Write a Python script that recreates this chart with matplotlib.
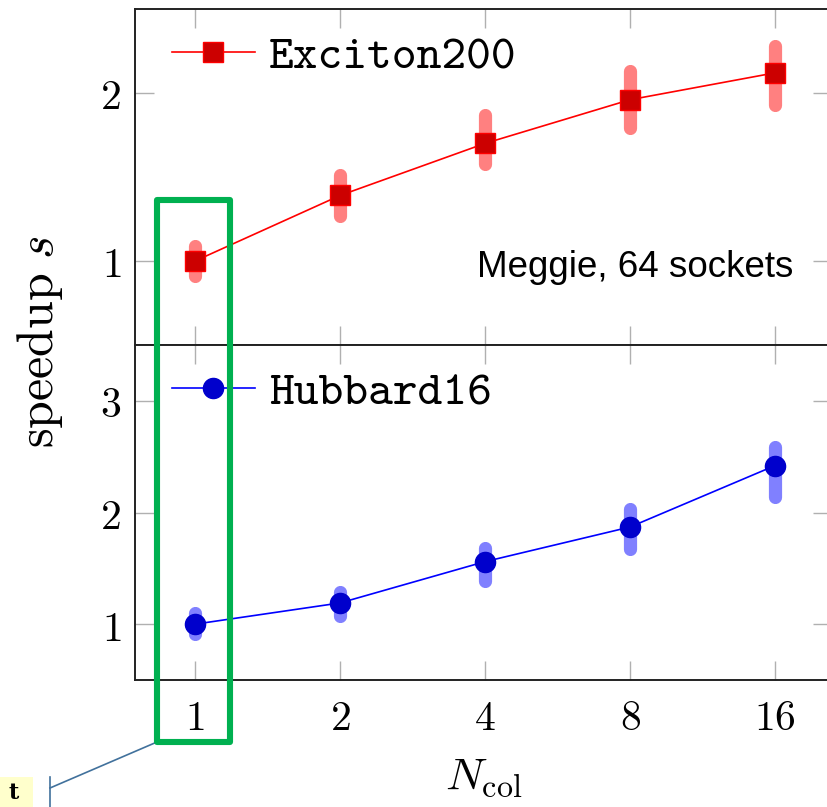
import os
import numpy as np
import matplotlib
matplotlib.use("Agg")
import matplotlib.pyplot as plt
from matplotlib.patches import Rectangle
from matplotlib.lines import Line2D
from matplotlib.font_manager import FontProperties

plt.rcParams['mathtext.fontset'] = 'cm'

# ---------------- data ----------------
ncol = [1, 2, 4, 8, 16]

exciton_speedup = [1.00, 1.39, 1.70, 1.96, 2.12]
exciton_lo = [0.91, 1.27, 1.58, 1.79, 1.93]
exciton_hi = [1.09, 1.51, 1.87, 2.13, 2.28]

hubbard_speedup = [1.00, 1.19, 1.56, 1.87, 2.42]
hubbard_lo = [0.91, 1.07, 1.39, 1.67, 2.14]
hubbard_hi = [1.10, 1.29, 1.68, 2.03, 2.59]

xtick_labels = [r'$1$', r'$2$', r'$4$', r'$8$', r'$16$']
top_yticks = [1, 2]
bot_yticks = [1, 2, 3]

# ---------------- figure ----------------
W, H = 828, 807
fig = plt.figure(figsize=(W / 100, H / 100), dpi=100)

def fx(x):
    return x / W

def fy(y):
    return 1 - y / H

cmtt_path = os.path.join(matplotlib.get_data_path(), 'fonts', 'ttf', 'cmtt10.ttf')
if os.path.exists(cmtt_path):
    tt_prop = FontProperties(fname=cmtt_path, size=34)
else:
    tt_prop = FontProperties(family='Liberation Mono', size=30)

ax_left = 135
ax_right = 832
ax_top = fig.add_axes([fx(ax_left), fy(345), (ax_right - ax_left) / W, (345 - 9) / H])
ax_bot = fig.add_axes([fx(ax_left), fy(680), (ax_right - ax_left) / W, (680 - 345) / H])

tick_fs = 30

def style_axes(ax, yticks, ylim, show_xlabels):
    ax.set_xscale('log', base=2)
    ax.set_xlim(2 ** -0.414, 2 ** 4.393)
    ax.set_ylim(*ylim)
    ax.set_xticks(ncol)
    ax.xaxis.set_minor_locator(matplotlib.ticker.NullLocator())
    ax.set_yticks(yticks)
    ax.set_yticklabels([r'$%d$' % v for v in yticks], fontsize=tick_fs)
    if show_xlabels:
        ax.set_xticklabels(xtick_labels, fontsize=tick_fs)
    else:
        ax.set_xticklabels([])
    ax.tick_params(axis='both', which='major', direction='in', length=14,
                   width=1.0, color='#b0b0b0', top=True, right=True,
                   labelcolor='black')
    ax.tick_params(axis='x', pad=12)
    ax.tick_params(axis='y', pad=10)
    for s in ax.spines.values():
        s.set_linewidth(1.4)
        s.set_color('#222222')
    ax.spines['right'].set_visible(False)

def draw_series(ax, y, lo, hi, line_c, face_c, bar_c, marker, ms, label):
    vl = ax.vlines(ncol, lo, hi, colors=bar_c, linewidth=9.5, zorder=2)
    vl.set_capstyle('round')
    ax.plot(ncol, y, color=line_c, linewidth=1.2, marker=marker, markersize=ms,
            markerfacecolor=face_c, markeredgecolor=line_c if marker == 's' else face_c,
            markeredgewidth=1.0, zorder=3, label=label)
    ax.legend(loc='center left', bbox_to_anchor=((172 - ax_left) / (ax_right - ax_left), 0.855),
              frameon=False, borderpad=0, borderaxespad=0, handlelength=1.75,
              handletextpad=0.3, prop=tt_prop)

draw_series(ax_top, exciton_speedup, exciton_lo, exciton_hi,
            '#ff0000', '#cc0000', '#ff8080', 's', 14, 'Exciton200')
draw_series(ax_bot, hubbard_speedup, hubbard_lo, hubbard_hi,
            '#0000ff', '#0000cc', '#8080ff', 'o', 14.5, 'Hubbard16')

style_axes(ax_top, top_yticks, (0.5, 2.5), False)
style_axes(ax_bot, bot_yticks, (0.5, 3.5), True)

ax_top.text(0.945, 0.232, 'Meggie, 64 sockets', transform=ax_top.transAxes,
            ha='right', va='center', fontsize=26.5, family='Liberation Sans')

ax_bot.set_xlabel(r'$N_{\mathrm{col}}$', fontsize=33, labelpad=12)
fig.text(fx(40), fy(342), r'$\mathrm{speedup}\ s$', rotation=90, fontsize=36,
         ha='center', va='center')

# ---------------- annotation overlay ----------------
green = '#00b050'
rect = Rectangle((fx(157), fy(742)), (230 - 157) / W, (742 - 200) / H,
                 transform=fig.transFigure, fill=False, edgecolor=green,
                 linewidth=4.4, joinstyle='round', zorder=10)
fig.add_artist(rect)

conn = '#41719c'
fig.add_artist(Line2D([fx(157), fx(50)], [fy(742), fy(788)], transform=fig.transFigure,
                      color=conn, linewidth=1.2, zorder=9))
fig.add_artist(Line2D([fx(50), fx(50)], [fy(777), fy(810)], transform=fig.transFigure,
                      color=conn, linewidth=1.2, zorder=9))
fig.add_artist(Rectangle((fx(0), fy(810)), 33 / W, 33 / H, transform=fig.transFigure,
                         facecolor='#ffffcc', edgecolor='none', zorder=8))
fig.text(fx(14), fy(804), 't', fontsize=16, fontweight='bold', family='DejaVu Serif',
         ha='center', va='bottom', zorder=11)

fig.savefig('out.png', dpi=100)
